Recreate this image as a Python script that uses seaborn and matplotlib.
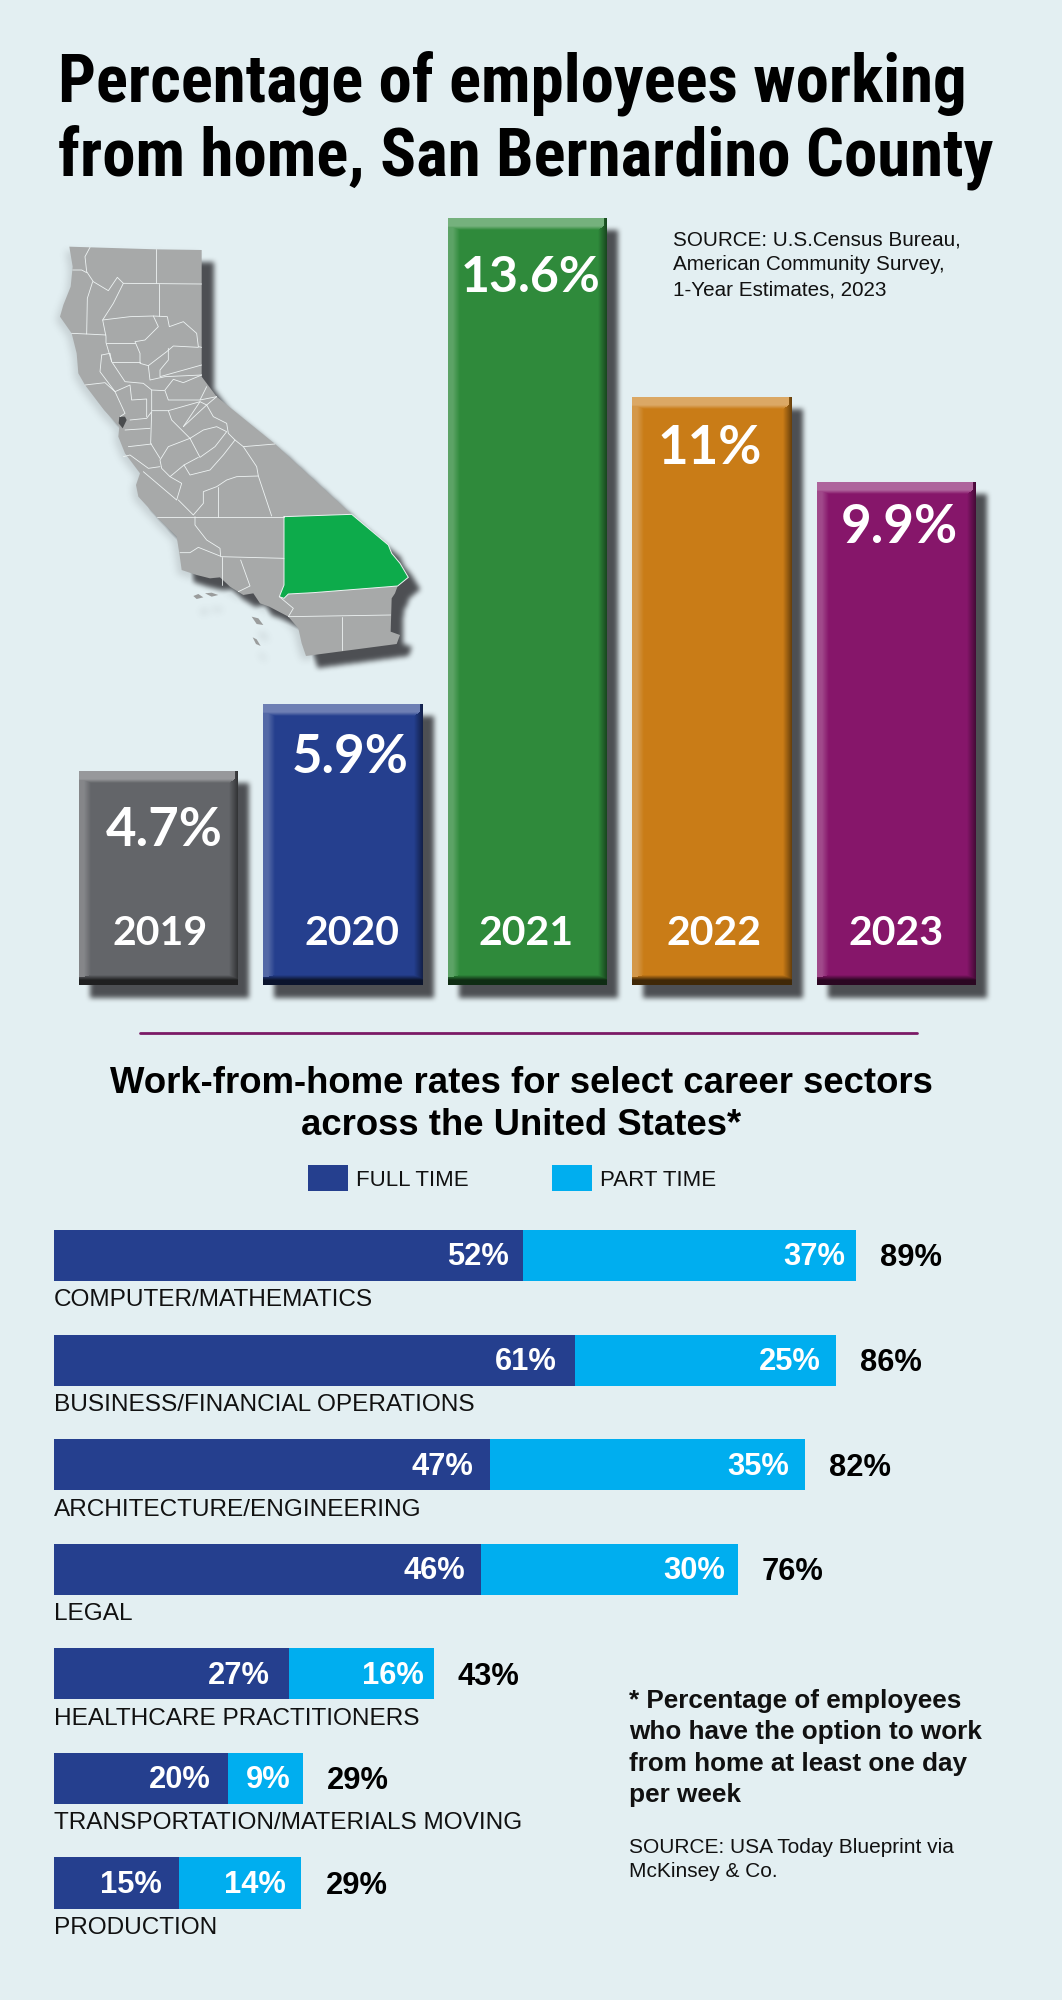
import numpy as np
import pandas as pd
import seaborn as sns
import matplotlib
matplotlib.use("Agg")
import matplotlib.pyplot as plt
from matplotlib.path import Path
from matplotlib.patches import Polygon, Rectangle

# ---- data ----
years = ["2019", "2020", "2021", "2022", "2023"]
year_labels = ["4.7%", "5.9%", "13.6%", "11%", "9.9%"]
# the columns in the picture are not to scale with the printed numbers, these are the heights as drawn
year_heights = [3.79, 4.98, 13.6, 10.43, 8.92]
year_colors = ["#636569", "#253F8E", "#2F8A3B", "#C97C17", "#86166A"]

sectors = ["COMPUTER/MATHEMATICS", "BUSINESS/FINANCIAL OPERATIONS", "ARCHITECTURE/ENGINEERING",
           "LEGAL", "HEALTHCARE PRACTITIONERS", "TRANSPORTATION/MATERIALS MOVING", "PRODUCTION"]
full_labels = [52, 61, 47, 46, 27, 20, 15]
part_labels = [37, 25, 35, 30, 16, 9, 14]
total_labels = [89, 86, 82, 76, 43, 29, 29]
# segment ends as drawn (same story, the picture is a bit loose with the scale)
full_drawn = [52.1, 57.9, 48.5, 47.5, 26.1, 19.3, 13.9]
total_drawn = [89.1, 86.9, 83.4, 76.0, 42.2, 27.7, 27.5]

# california outline (map illustration, not data)
ca_outline = [(118,80),(180,82),(378,88),(515,90),(515,300),(515,470),(560,530),(735,672),(965,883),(1075,975),
              (1085,1000),(1110,1030),(1135,1072),(1103,1098),(1095,1120),(1085,1135),(1082,1235),(1110,1245),
              (1100,1272),(828,1308),(815,1270),(805,1225),(775,1190),(718,1160),(690,1150),(670,1120),
              (640,1125),(600,1100),(570,1072),(540,1075),(500,1065),(455,1050),(448,1000),(440,950),(380,890),
              (325,830),(318,795),(330,760),(300,720),(285,700),(265,650),(268,620),(222,570),(165,495),
              (145,460),(140,400),(125,340),(90,290),(100,255),(122,200),(128,140)]
sb_county = [(762,890),(965,883),(1075,975),(1085,1000),(1110,1030),(1135,1072),(1103,1098),(1015,1105),(850,1118),
             (775,1122),(762,1135),(748,1130),(762,1095),(762,1015)]
county_lines = [
    [(378,88),(378,190)],
    [(180,82),(165,110),(170,155),(190,185),(235,212),(262,172),(280,190),(515,192)],
    [(128,150),(155,150),(170,158)],
    [(188,185),(172,235),(170,342),(125,340)],
    [(170,342),(228,345)],
    [(280,190),(250,250),(218,300),(228,350),(228,368),(245,425)],
    [(388,192),(388,288)],
    [(218,300),(300,290),(370,288),(412,290),(418,320),(460,305),(500,340),(505,380),(515,382)],
    [(370,288),(385,320),(345,360),(315,365),(330,400),(330,430),(355,437),(410,395),(430,378),(505,382)],
    [(228,368),(315,368)],
    [(245,425),(330,425)],
    [(215,405),(240,400),(245,425),(275,470),(285,485),(340,490),(365,510),(405,512),(415,540),(510,540),(560,530)],
    [(215,405),(210,455),(255,515),(285,580),(270,590)],
    [(165,495),(225,488),(255,515),(300,495),(305,540),(350,537),(350,590)],
    [(415,385),(415,420),(390,450),(390,470),(515,435)],
    [(355,437),(360,480),(405,470),(515,465)],
    [(405,510),(430,478),(460,488),(515,465)],
    [(510,540),(530,500)],
    [(510,545),(530,555),(560,530)],
    [(415,572),(510,545),(460,620)],
    [(365,510),(365,572),(415,572),(425,600),(480,655),(510,712),(555,680),(590,635),(560,620),(520,630),(480,655)],
    [(460,620),(530,555),(550,590),(590,610),(595,640),(615,660),(580,705),(540,750),(480,765),(462,735),(505,712)],
    [(480,655),(415,680),(390,720),(395,745),(420,770),(462,735)],
    [(365,575),(362,670),(390,715)],
    [(300,600),(350,595),(365,575)],
    [(285,630),(360,625)],
    [(295,680),(365,672)],
    [(280,710),(300,705),(355,745),(390,740)],
    [(340,755),(440,840),(455,790),(420,770)],
    [(445,840),(490,885),(520,850),(520,815),(560,800),(590,780),(620,770),(685,768),(680,740),(640,680),(735,672)],
    [(615,660),(640,680)],
    [(685,768),(725,888)],
    [(565,800),(565,890)],
    [(380,890),(762,890)],
    [(495,890),(495,915),(530,960),(570,985),(572,1010),(762,1015)],
    [(450,998),(480,998),(505,982),(570,1008)],
    [(575,1010),(575,1095)],
    [(632,1020),(660,1098),(625,1115)],
    [(748,1130),(790,1165),(775,1190),(1082,1185)],
    [(935,1190),(935,1290)],
]
islands = [[(490,1128),(505,1122),(520,1132),(500,1137)], [(525,1120),(545,1118),(565,1125),(545,1130)],
           [(665,1190),(685,1195),(700,1215),(680,1212)], [(668,1252),(680,1258),(692,1278),(678,1272)]]

BG = "#E3EFF2"
NAVY = "#253F8E"
SKY = "#00AEEF"
W, H, DPI = 1062, 2000, 100


def pt(px):
    return px * 72 / DPI


def zoomed(points):
    # traced in a 3x crop starting at (30, 220)
    return [(30 + x / 3, 220 + y / 3) for x, y in points]


def box_blur(a, r):
    # three box passes, close enough to a gaussian
    for _ in range(3):
        for axis in (0, 1):
            c = np.cumsum(np.pad(a, [(r + 1, r) if i == axis else (0, 0) for i in range(2)], mode="edge"), axis=axis)
            if axis == 0:
                a = (c[2 * r + 1:, :] - c[:-(2 * r + 1), :]) / (2 * r + 1)
            else:
                a = (c[:, 2 * r + 1:] - c[:, :-(2 * r + 1)]) / (2 * r + 1)
    return a


sns.set_theme(style="white")
plt.rcParams["font.family"] = ["Liberation Sans", "DejaVu Sans"]

fig = plt.figure(figsize=(W / DPI, H / DPI), dpi=DPI, facecolor=BG)

ax_bg = fig.add_axes([0, 0, 1, 1], zorder=0)
ax_bg.set_xlim(0, W)
ax_bg.set_ylim(H, 0)
ax_bg.axis("off")

# ---- columns ----
df_years = pd.DataFrame({"year": years, "height": year_heights})
ax_top = fig.add_axes([66.25 / W, 1 - 985 / H, 922.5 / W, 767 / H], zorder=1)
ax_top.patch.set_alpha(0)
sns.barplot(data=df_years, x="year", y="height", hue="year", palette=year_colors, order=years,
            width=0.865, saturation=1, legend=False, linewidth=0, ax=ax_top)
ax_top.set_xlim(-0.5, 4.5)
ax_top.set_ylim(0, 13.6)
ax_top.axis("off")

label_dx = [5.5, 7, 3.5, -2.5, 3]
label_drop = [75, 69, 74, 67, 61]
label_size = [38, 38, 36, 38, 38]
year_dx = [2, 9, -1, 1.5, 0]
for i, (lab, h, yr) in enumerate(zip(year_labels, year_heights, years)):
    ax_top.annotate(lab, (i, h), xytext=(pt(label_dx[i]), -pt(label_drop[i])), textcoords="offset points",
                    ha="center", va="baseline", color="white", fontsize=label_size[i], fontweight="bold", family="Lato")
    ax_top.annotate(yr, (i, 0), xytext=(pt(year_dx[i]), pt(40)), textcoords="offset points",
                    ha="center", va="baseline", color="white", fontsize=29.5, fontweight="bold", family="Lato")

# ---- stacked rows, total behind full ----
df_sect = pd.DataFrame({"sector": sectors, "full": full_drawn, "total": total_drawn})
ax_bot = fig.add_axes([54 / W, 1 - 1935.3 / H, 810 / W, 732.1 / H], zorder=1)
ax_bot.patch.set_alpha(0)
sns.barplot(data=df_sect, y="sector", x="total", color=SKY, width=0.488, saturation=1, linewidth=0, ax=ax_bot)
sns.barplot(data=df_sect, y="sector", x="full", color=NAVY, width=0.488, saturation=1, linewidth=0, ax=ax_bot)
ax_bot.set_xlim(0, 90)
ax_bot.set_ylim(6.5, -0.5)
ax_bot.axis("off")

full_pad = [14, 18, 17, 16, 19, 17, 17]
part_pad = [11, 15, 15, 13, 10, 13, 16]
for i, name in enumerate(sectors):
    ax_bot.annotate(f"{full_labels[i]}%", (full_drawn[i], i), xytext=(-pt(full_pad[i]), -pt(10)), textcoords="offset points",
                    ha="right", va="baseline", color="white", fontsize=22.2, fontweight="bold")
    ax_bot.annotate(f"{part_labels[i]}%", (total_drawn[i], i), xytext=(-pt(part_pad[i]), -pt(10)), textcoords="offset points",
                    ha="right", va="baseline", color="white", fontsize=22.2, fontweight="bold")
    ax_bot.annotate(f"{total_labels[i]}%", (total_drawn[i], i), xytext=(pt(24), -pt(11)), textcoords="offset points",
                    ha="left", va="baseline", color="black", fontsize=22.2, fontweight="bold")
    ax_bot.annotate(name, (0, i), xytext=(0, -pt(51)), textcoords="offset points",
                    ha="left", va="baseline", color="#111111", fontsize=17.55)

# ---- overlay in pixels ----
ov = fig.add_axes([0, 0, 1, 1], zorder=2)
ov.patch.set_alpha(0)
ov.axis("off")

# soft shadows + bevels are worked out from the drawn column geometry
alpha = np.zeros((H, W))
boxes = []
for p in ax_top.patches:
    (x0, y0), (x1, y1) = ax_top.transData.transform([(p.get_x(), p.get_y()),
                                                    (p.get_x() + p.get_width(), p.get_y() + p.get_height())])
    x0, x1, top, bot = int(round(x0)), int(round(x1)), int(round(H - y1)), int(round(H - y0))
    boxes.append((x0, x1, top, bot))
    alpha[top + 12:bot + 13, x0 + 11:x1 + 11] = 1

yy, xx = np.mgrid[210:680, 40:440]
grid = np.column_stack([xx.ravel() + 0.5, yy.ravel() + 0.5])
map_mask = Path(zoomed(ca_outline)).contains_points(grid).reshape(xx.shape).astype(float)
alpha[222:692, 52:452] = np.maximum(alpha[222:692, 52:452], map_mask)
alpha = box_blur(alpha, 2)

# faint haze under the map and islands
haze = np.zeros((H, W))
haze[214:684, 36:436] = map_mask
for isl in islands:
    m = Path(zoomed(isl)).contains_points(grid).reshape(xx.shape).astype(float)
    haze[225:695, 46:446] = np.maximum(haze[225:695, 46:446], m)
haze = box_blur(haze, 3)

shadow = np.zeros((H, W, 4))
shadow[..., :3] = np.array([0x48, 0x4A, 0x4E]) / 255
shadow[..., 3] = np.maximum(alpha * 0.97, haze * 0.18)
ax_bg.imshow(shadow, extent=(0, W, H, 0), aspect="auto", interpolation="nearest")
ax_bg.set_xlim(0, W)
ax_bg.set_ylim(H, 0)

for x0, x1, top, bot in boxes:
    bw, bh = x1 - x0, bot - top
    dx = np.arange(bw) + 0.5
    dy = np.arange(bh) + 0.5
    light = np.zeros((bh, bw))
    light = np.maximum(light, 0.34 * np.clip((12 - dy) / 4, 0, 1)[:, None])
    light = np.maximum(light, (0.22 * np.clip((12 - dx) / 7, 0, 1))[None, :])
    dark = np.zeros((bh, bw))
    dark = np.maximum(dark, (0.68 * np.clip((10 - (bh - dy)) / 5, 0, 1))[:, None])
    dark = np.maximum(dark, (0.5 * np.clip((9 - (bw - dx)) / 9, 0, 1))[None, :])
    rgba = np.zeros((bh, bw, 4))
    rgba[..., :3] = (light > dark)[..., None] * 1.0
    rgba[..., 3] = np.maximum(light, dark)
    ov.imshow(rgba, extent=(x0, x1, bot, top), aspect="auto", interpolation="nearest")

ov.set_xlim(0, W)
ov.set_ylim(H, 0)

# map
ov.add_patch(Polygon(zoomed(ca_outline), closed=True, fc="#A7A9A9", ec="none"))
ov.add_patch(Polygon(zoomed(sb_county), closed=True, fc="#0DAB4B", ec="none"))
for line in county_lines:
    xs, ys = zip(*zoomed(line))
    ov.plot(xs, ys, color="#EEF3F3", lw=0.6, solid_capstyle="round", solid_joinstyle="round")
xs, ys = zip(*zoomed(sb_county + sb_county[:1]))
ov.plot(xs, ys, color="#EEF3F3", lw=0.7)
for isl in islands:
    ov.add_patch(Polygon(zoomed(isl), closed=True, fc="#9A9C9C", ec="none"))
ov.add_patch(Polygon(zoomed([(268,590),(285,590),(290,600),(278,625),(266,610)]), closed=True, fc="#4A4C4E", ec="none"))

# title
for txt, y in [("Percentage of employees working", 102), ("from home, San Bernardino County", 175)]:
    ov.text(58, y, txt, fontsize=48.15, fontweight="bold", color="black", va="baseline", family="Roboto Condensed")

for txt, y in [("SOURCE: U.S.Census Bureau,", 245), ("American Community Survey,", 270), ("1-Year Estimates, 2023", 295)]:
    ov.text(673, y, txt, fontsize=14.9, color="#111111", va="baseline")

ov.plot([140, 917], [1033, 1033], color="#7B1A66", lw=2)

ov.text(521, 1093, "Work-from-home rates for select career sectors", ha="center", va="baseline",
        fontsize=26.25, fontweight="bold", color="black")
ov.text(521, 1135, "across the United States*", ha="center", va="baseline",
        fontsize=26.25, fontweight="bold", color="black")

# legend
ov.add_patch(Rectangle((308, 1165), 40, 26, fc=NAVY, ec="none"))
ov.text(356, 1186, "FULL TIME", fontsize=16, color="#111111", va="baseline")
ov.add_patch(Rectangle((552, 1165), 40, 26, fc=SKY, ec="none"))
ov.text(600, 1186, "PART TIME", fontsize=16, color="#111111", va="baseline")

# footnote
note = ["* Percentage of employees", "who have the option to work", "from home at least one day", "per week"]
for txt, y in zip(note, [1708, 1739, 1771, 1802]):
    ov.text(629, y, txt, fontsize=18.8, fontweight="bold", color="#111111", va="baseline")
for txt, y in [("SOURCE: USA Today Blueprint via", 1853), ("McKinsey & Co.", 1877)]:
    ov.text(629, y, txt, fontsize=15, color="#111111", va="baseline")

fig.savefig("out.png", dpi=DPI, facecolor=BG)
